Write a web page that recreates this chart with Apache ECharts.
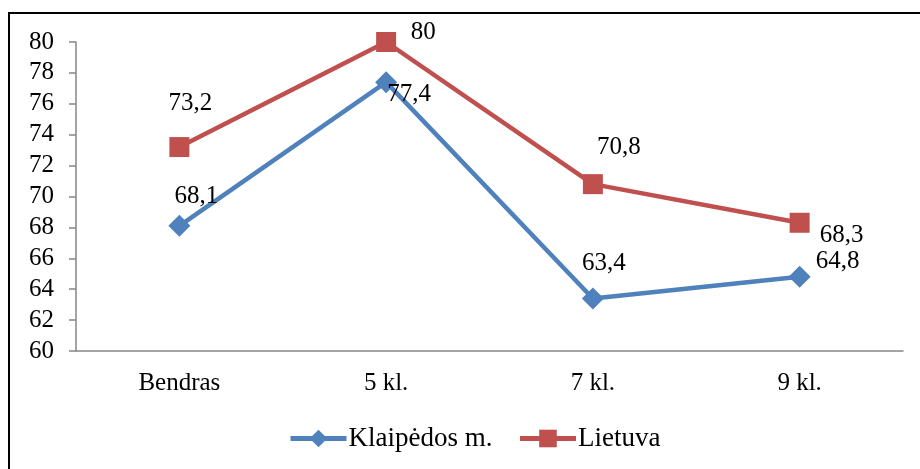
<!DOCTYPE html>
<html>
<head>
<meta charset="utf-8">
<script src="https://cdn.jsdelivr.net/npm/echarts@6/dist/echarts.min.js"></script>
<style>html,body{margin:0;padding:0;background:#fff}#c{width:920px;height:469px}</style>
</head>
<body>
<div id="c"></div>
<script>
const categories = ['Bendras', '5 kl.', '7 kl.', '9 kl.'];
const klaipeda = [68.1, 77.4, 63.4, 64.8];
const lietuva = [73.2, 80, 70.8, 68.3];
const yTicks = {min: 60, max: 80, interval: 2};

const FONT = 'Liberation Serif';
const kOffsets = [[17, -29], [23, 12], [11, -35], [38, -15]];
const lOffsets = [[11, -44], [37, -10], [26, -37], [42, 13]];
const fmt = v => String(v).replace('.', ',');

function items(values, offsets) {
  return values.map((v, i) => ({
    value: v,
    label: {offset: offsets[i]}
  }));
}

const chart = echarts.init(document.getElementById('c'));
chart.setOption({
  animation: false,
  textStyle: {fontFamily: FONT},
  grid: {left: 76, right: 17, top: 42, bottom: 118, containLabel: false},
  graphic: [{
    type: 'rect',
    shape: {x: 9, y: 13, width: 1200, height: 1200},
    style: {fill: null, stroke: '#000', lineWidth: 2},
    silent: true
  }],
  legend: {
    bottom: 12,
    left: 283,
    itemWidth: 56,
    itemHeight: 22,
    itemGap: 25,
    lineStyle: {width: 5},
    textStyle: {fontFamily: FONT, fontSize: 27, color: '#000', padding: [0, 0, 0, -3]},
    data: ['Klaipėdos m.', 'Lietuva']
  },
  xAxis: {
    type: 'category',
    data: categories,
    boundaryGap: true,
    axisLine: {lineStyle: {color: '#868686', width: 1.5}},
    axisTick: {length: 7, lineStyle: {color: '#868686', width: 1.5}},
    axisLabel: {fontFamily: FONT, fontSize: 25, color: '#000', margin: 20}
  },
  yAxis: {
    type: 'value',
    min: yTicks.min, max: yTicks.max, interval: yTicks.interval,
    axisLine: {show: true, lineStyle: {color: '#868686', width: 1.5}},
    axisTick: {show: true, length: 7, lineStyle: {color: '#868686', width: 1.5}},
    splitLine: {show: false},
    axisLabel: {fontFamily: FONT, fontSize: 25, color: '#000', margin: 22}
  },
  series: [
    {
      name: 'Klaipėdos m.',
      type: 'line',
      data: items(klaipeda, kOffsets),
      symbol: 'diamond',
      symbolSize: 22,
      itemStyle: {color: '#4F81BD'},
      lineStyle: {color: '#4F81BD', width: 4.5},
      label: {show: true, position: 'inside', formatter: p => fmt(p.value), fontFamily: FONT, fontSize: 25, color: '#000'},
      z: 3
    },
    {
      name: 'Lietuva',
      type: 'line',
      data: items(lietuva, lOffsets),
      symbol: 'rect',
      symbolSize: 20,
      itemStyle: {color: '#C0504D'},
      lineStyle: {color: '#C0504D', width: 4.5},
      label: {show: true, position: 'inside', formatter: p => fmt(p.value), fontFamily: FONT, fontSize: 25, color: '#000'},
      z: 2
    }
  ]
});
</script>
</body>
</html>
